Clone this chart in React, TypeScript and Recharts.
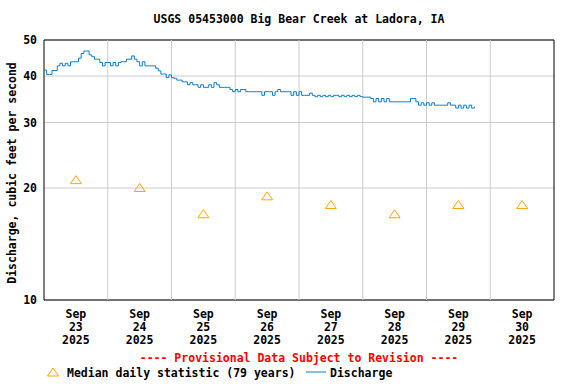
import React from 'react';
import {
  ComposedChart,
  Line,
  Scatter,
  XAxis,
  YAxis,
  CartesianGrid,
  ReferenceLine,
  ReferenceArea,
  Legend,
} from 'recharts';

// hourly discharge (cfs) starting Sep 23 2025 00:00
const dischargeCfs = [
  41.5, 40.4, 40.4, 41.4, 41.4, 42.6, 43.3, 42.6, 43.3, 42.6, 43.7, 43.7, 43.7, 44.7, 46.0, 46.7, 46.7, 45.6, 45.1, 44.4, 44.4, 43.5, 42.6, 43.5,
  43.5, 42.6, 43.5, 42.6, 43.5, 43.7, 43.7, 44.4, 44.4, 45.3, 44.4, 43.7, 42.6, 43.7, 42.6, 42.6, 42.6, 42.6, 42.0, 41.3, 40.5, 40.5, 39.6, 40.3,
  39.6, 39.45, 39.0, 39.0, 38.6, 38.6, 37.9, 38.4, 37.9, 37.9, 37.3, 37.9, 37.3, 37.3, 37.9, 37.3, 38.4, 37.9, 37.3, 37.3, 37.3, 37.3, 36.8, 36.3,
  36.8, 36.3, 36.8, 36.8, 36.3, 36.3, 36.3, 36.3, 36.3, 36.3, 35.5, 36.3, 36.3, 36.3, 35.5, 36.3, 36.8, 36.3, 36.3, 36.3, 36.3, 35.5, 36.3, 35.5,
  36.3, 35.5, 35.5, 35.5, 36.0, 35.5, 35.2, 35.5, 35.2, 35.5, 35.2, 35.5, 35.2, 35.5, 35.5, 35.2, 35.5, 35.2, 35.5, 35.2, 35.5, 35.2, 35.5, 35.2,
  35.1, 35.1, 35.1, 34.8, 34.1, 34.8, 34.1, 34.8, 34.1, 34.8, 34.1, 34.1, 34.1, 34.1, 34.1, 34.1, 34.1, 34.1, 34.8, 34.8, 34.1, 33.4, 33.9, 33.4,
  33.9, 33.4, 33.9, 33.4, 33.4, 33.4, 33.4, 33.4, 33.9, 33.4, 33.4, 32.8, 33.4, 32.8, 33.4, 32.8, 33.4, 32.8, 33.1,
];

const dayNumbers = ['23', '24', '25', '26', '27', '28', '29', '30'];
const medianCfs = [21, 20, 17, 19, 18, 17, 18, 18];
const yTicks = [10, 20, 30, 40, 50];

const dischargeData = dischargeCfs.map((q, i) => ({ hour: i, q }));
const medianData = medianCfs.map((median, i) => ({ hour: i * 24 + 12, median }));
const dayTicks = dayNumbers.map((_, i) => i * 24 + 12);
const dayBoundaries = dayNumbers.slice(1).map((_, i) => (i + 1) * 24);

const FONT = '"DejaVu Sans Mono", monospace';
const BLUE = '#0b7dcc';
const ORANGE = '#ffa500';

const DayTick = (props: any) => {
  const { x, y, payload } = props;
  const idx = Math.round((payload.value - 12) / 24);
  return (
    <text x={x} y={y} textAnchor="middle" fontFamily={FONT} fontSize={11.5} fontWeight="bold" fill="#000">
      <tspan x={x} dy={18}>Sep</tspan>
      <tspan x={x} dy={13}>{dayNumbers[idx]}</tspan>
      <tspan x={x} dy={13}>2025</tspan>
    </text>
  );
};

const Triangle = (props: any) => {
  const { cx, cy } = props;
  if (cx == null || cy == null) return null;
  const pts = `${cx},${cy - 4.5} ${cx - 5.5},${cy + 3.5} ${cx + 5.5},${cy + 3.5}`;
  return <polygon points={pts} fill="none" stroke={ORANGE} strokeWidth={1} />;
};

const YTitle = () => (
  <text
    x={12}
    y={173}
    transform="rotate(-90 12 173)"
    textAnchor="middle"
    dominantBaseline="central"
    fontFamily={FONT}
    fontSize={11.5}
    fontWeight="bold"
    fill="#000"
  >
    Discharge, cubic feet per second
  </text>
);

const BottomLegend = () => (
  <svg width={576} height={36}>
    <text x={299} y={13} textAnchor="middle" fontFamily={FONT} fontSize={11.5} fontWeight="bold" fill="#ff0000">
      ---- Provisional Data Subject to Revision ----
    </text>
    <polygon points="53,19 47.5,27 58.5,27" fill="none" stroke={ORANGE} strokeWidth={1} />
    <text x={67} y={28} fontFamily={FONT} fontSize={11.5} fontWeight="bold" fill="#000">
      Median daily statistic (79 years)
    </text>
    <line x1={306} y1={23} x2={326} y2={23} stroke={BLUE} strokeWidth={1} />
    <text x={330} y={28} fontFamily={FONT} fontSize={11.5} fontWeight="bold" fill="#000">
      Discharge
    </text>
  </svg>
);

export default function App() {
  return (
    <div style={{ position: 'absolute', left: 0, top: 0, width: 576, height: 384, background: '#fff' }}>
      <div
        style={{
          position: 'absolute',
          top: 12,
          left: 0,
          width: 598,
          textAlign: 'center',
          fontFamily: FONT,
          fontSize: 11.5,
          fontWeight: 'bold',
          lineHeight: '14px',
          color: '#000',
        }}
      >
        USGS 05453000 Big Bear Creek at Ladora, IA
      </div>
      <ComposedChart width={576} height={384} margin={{ top: 40, right: 22, bottom: 24, left: 4 }}>
        <CartesianGrid vertical={false} stroke="#cccccc" />
        {dayBoundaries.map((h) => (
          <ReferenceLine key={h} x={h} stroke="#cccccc" />
        ))}
        <XAxis
          type="number"
          dataKey="hour"
          domain={[0, 192]}
          ticks={dayTicks}
          tick={<DayTick />}
          tickLine={false}
          tickSize={0}
          tickMargin={0}
          axisLine={false}
          height={60}
          allowDataOverflow
          interval={0}
        />
        <YAxis
          scale="log"
          domain={[10, 50]}
          ticks={yTicks}
          allowDataOverflow
          width={40}
          tickLine={false}
          tickSize={0}
          tickMargin={7}
          axisLine={false}
          interval={0}
          tick={{ fontFamily: FONT, fontSize: 11.5, fontWeight: 'bold', fill: '#000' }}
          label={<YTitle />}
        />
        <Line
          data={dischargeData}
          dataKey="q"
          type="stepAfter"
          stroke={BLUE}
          strokeWidth={1}
          dot={false}
          activeDot={false}
          isAnimationActive={false}
        />
        <Scatter data={medianData} dataKey="median" shape={<Triangle />} isAnimationActive={false} />
        <ReferenceArea x1={0} x2={192} y1={10} y2={50} fill="none" stroke="#000" strokeWidth={1} />
        <Legend
          layout="vertical"
          verticalAlign="middle"
          align="center"
          content={<BottomLegend />}
          wrapperStyle={{ top: 349, left: 0, width: 576, height: 36 }}
        />
      </ComposedChart>
    </div>
  );
}
